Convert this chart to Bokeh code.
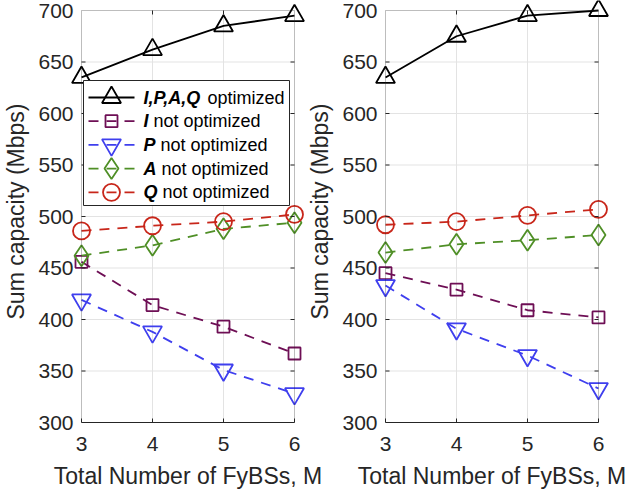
from bokeh.plotting import figure
from bokeh.models import Range1d, BoxAnnotation
from bokeh.core.properties import value
from bokeh.layouts import row
from bokeh.embed import file_html
from bokeh.resources import INLINE

# Number of FyBSs on the x axis
M = [3, 4, 5, 6]

# Sum capacity (Mbps), left panel
left_all = [635, 662, 685, 695]
left_I = [456, 414, 393, 367]
left_P = [419, 388, 351, 328]
left_A = [462, 472, 488, 494]
left_Q = [486, 491, 495, 502]

# Sum capacity (Mbps), right panel
right_all = [635, 675, 695, 700]
right_I = [445, 429, 409, 402]
right_P = [433, 391, 365, 333]
right_A = [465, 473, 477, 482]
right_Q = [492, 495, 501, 507]

x_ticks = [3, 4, 5, 6]
y_ticks = [300, 350, 400, 450, 500, 550, 600, 650, 700]

# legend text: (bold italic part, plain part)
legend_text = [
    ("I,P,A,Q", "optimized"),
    ("I", "not optimized"),
    ("P", "not optimized"),
    ("A", "not optimized"),
    ("Q", "not optimized"),
]

# series styles: colour, marker, marker size, dash
styles = [
    ("#000000", "triangle", 19, "solid"),
    ("#6e0f55", "square", 12, "10 8"),
    ("#3f3fee", "inverted_triangle", 19, "10 8"),
    ("#4f8f26", "diamond", 21, "10 8"),
    ("#c8261a", "circle", 17, "10 8"),
]

FONT = "Liberation Sans"
AX = "#262626"
GRID = "#e3e3e3"

# axes box in pixels; the frame is padded so markers on the box edges are not cut
BOX_W, BOX_H = 213, 412
PAD_X, PAD_TOP = 12, 10
TICK_LEN = 4

# advance widths (per 1000 em) of Liberation Sans Bold Italic
BI_W = {"I": 278, "P": 667, "A": 722, "Q": 778, ",": 278, " ": 278}


def panel(series, border_right, with_legend=False, margin=None):
    x0, x1 = x_ticks[0], x_ticks[-1]
    y0, y1 = y_ticks[0], y_ticks[-1]
    ux = (x1 - x0) / BOX_W          # data units per pixel
    uy = (y1 - y0) / BOX_H

    p = figure(frame_width=BOX_W + 2 * PAD_X, frame_height=BOX_H + PAD_TOP,
               x_range=Range1d(x0 - PAD_X * ux, x1 + PAD_X * ux),
               y_range=Range1d(y0, y1 + PAD_TOP * uy),
               min_border_left=68, min_border_right=border_right,
               min_border_top=0, min_border_bottom=70,
               output_backend="svg", toolbar_location=None)
    p.outline_line_color = None
    p.border_fill_color = None
    p.background_fill_color = "white"
    p.grid.visible = False

    # tick labels and axis titles
    for ax in (p.xaxis[0], p.yaxis[0]):
        ax.major_label_text_font = FONT
        ax.major_label_text_font_size = "21px"
        ax.major_label_text_color = AX
        ax.axis_label_text_font = FONT
        ax.axis_label_text_font_size = "23px"
        ax.axis_label_text_font_style = "normal"
        ax.axis_label_text_color = AX
        ax.minor_tick_line_color = None
    p.xaxis.ticker = x_ticks
    p.yaxis.ticker = y_ticks
    p.xaxis.axis_label = "Total Number of FyBSs, M"
    p.yaxis.axis_label = "Sum capacity (Mbps)"

    p.xaxis.bounds = (x0, x1)
    p.xaxis.axis_line_color = AX
    p.xaxis.major_tick_line_color = AX
    p.xaxis.major_tick_in = TICK_LEN
    p.xaxis.major_tick_out = 0
    p.xaxis.major_label_standoff = 14
    p.xaxis.axis_label_standoff = 9

    p.yaxis.axis_line_color = None
    p.yaxis.major_tick_line_color = None
    p.yaxis.major_tick_in = 0
    p.yaxis.major_tick_out = 0
    p.yaxis.major_label_standoff = 8 - PAD_X
    p.yaxis.axis_label_standoff = 6

    # grid
    xi = x_ticks[1:-1]
    yi = y_ticks[1:-1]
    p.segment(x0=xi, y0=[y0] * len(xi), x1=xi, y1=[y1] * len(xi),
              line_color=GRID, line_width=1)
    p.segment(x0=[x0] * len(yi), y0=yi, x1=[x1] * len(yi), y1=yi,
              line_color=GRID, line_width=1)

    # data
    for vals, (color, marker, size, dash) in zip(series, styles):
        p.line(M, vals, line_color=color, line_width=1.8, line_dash=dash)
        p.scatter(M, vals, marker=marker, size=size, line_color=color,
                  fill_color=None, line_width=1.8)

    # inward ticks on the left, right and top sides
    tx, ty = TICK_LEN * ux, TICK_LEN * uy
    p.segment(x0=[x0] * len(yi), y0=yi, x1=[x0 + tx] * len(yi), y1=yi,
              line_color=AX, line_width=1)
    p.segment(x0=[x1] * len(yi), y0=yi, x1=[x1 - tx] * len(yi), y1=yi,
              line_color=AX, line_width=1)
    p.segment(x0=xi, y0=[y1] * len(xi), x1=xi, y1=[y1 - ty] * len(xi),
              line_color=AX, line_width=1)
    p.add_layout(BoxAnnotation(left=x0, right=x1, bottom=y0, top=y1,
                               fill_color=None, line_color=AX, line_width=1))

    if with_legend:
        # legend laid out in pixels from the lower-left corner of the axes box
        lg = p.subplot(x_source=Range1d(0, BOX_W), y_source=Range1d(0, BOX_H),
                       x_target=Range1d(x0, x1), y_target=Range1d(y0, y1))
        lg.quad(left=[2], right=[208], bottom=[217], top=[342],
                fill_color="white", line_color=AX, line_width=1)
        rows = [325 - 23.7 * i for i in range(len(styles))]
        for yr, (color, marker, size, dash) in zip(rows, styles):
            lg.line([7, 53], [yr, yr], line_color=color, line_width=1.8,
                    line_dash=dash)
            lg.scatter([30], [yr], marker=marker, size=size, line_color=color,
                       fill_color=None, line_width=1.8)
        text_x = 62
        bold = [b for b, _ in legend_text]
        plain = [t for _, t in legend_text]
        plain_x = [text_x + sum(BI_W[c] for c in b + " ") * 18 / 1000 for b in bold]
        lg.text(x=[text_x] * len(bold), y=rows, text=bold,
                text_font=value(FONT), text_font_size="18px",
                text_font_style="bold italic", text_color="black",
                text_baseline="middle", text_align="left")
        lg.text(x=plain_x, y=rows, text=plain,
                text_font=value(FONT), text_font_size="18px",
                text_color="black", text_baseline="middle", text_align="left")

    if margin is not None:
        p.margin = margin
    return p


left = panel([left_all, left_I, left_P, left_A, left_Q], 30, with_legend=True)
right = panel([right_all, right_I, right_P, right_A, right_Q], 23,
              margin=(0, 0, 0, -32))

layout = row(left, right)
open("out.html", "w").write(file_html(layout, INLINE))
